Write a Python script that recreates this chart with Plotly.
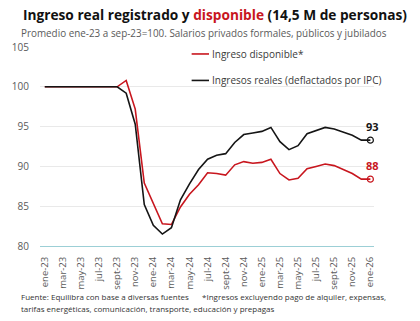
import plotly.graph_objects as go

# Monthly series, index base: average Jan-23 to Sep-23 = 100
meses = [
    "ene-23", "feb-23", "mar-23", "abr-23", "may-23", "jun-23", "jul-23", "ago-23",
    "sept-23", "oct-23", "nov-23", "dic-23",
    "ene-24", "feb-24", "mar-24", "abr-24", "may-24", "jun-24", "jul-24", "ago-24",
    "sept-24", "oct-24", "nov-24", "dic-24",
    "ene-25", "feb-25", "mar-25", "abr-25", "may-25", "jun-25", "jul-25", "ago-25",
    "sept-25", "oct-25", "nov-25", "dic-25",
    "ene-26",
]

ingreso_disponible = [
    100, 100, 100, 100, 100, 100, 100, 100, 100, 100.8, 97.2, 87.9,
    85.4, 82.8, 82.7, 84.9, 86.5, 87.7, 89.2, 89.1, 88.9, 90.2, 90.6, 90.4,
    90.5, 90.9, 89.1, 88.3, 88.5, 89.7, 90.0, 90.3, 90.1, 89.6, 89.1, 88.4,
    88.4,
]

ingresos_reales = [
    100, 100, 100, 100, 100, 100, 100, 100, 100, 99.2, 95.3, 85.2,
    82.6, 81.5, 82.3, 85.8, 87.8, 89.6, 90.9, 91.4, 91.6, 93.0, 94.0, 94.2,
    94.4, 94.9, 93.1, 92.1, 92.6, 94.1, 94.5, 94.9, 94.7, 94.3, 93.9, 93.3,
    93.3,
]

etiquetas_x = meses[::2]
ticks_y = [80, 85, 90, 95, 100, 105]

nombre_disp = "Ingreso disponible*"
nombre_real = "Ingresos reales (deflactados por IPC)"

ROJO = "#c8161e"
NEGRO = "#151515"
GRIS = "#5a5a5a"
FUENTE = "Open Sans, Lato, sans-serif"

fig = go.Figure()

series = [(nombre_disp, ingreso_disponible, ROJO), (nombre_real, ingresos_reales, NEGRO)]
for nombre, valores, color in series:
    fig.add_trace(go.Scatter(
        x=meses, y=valores, mode="lines", name=nombre,
        line=dict(color=color, width=1.6), showlegend=False,
    ))
    # open marker and value on the last month
    fig.add_trace(go.Scatter(
        x=[meses[-1]], y=[valores[-1]], mode="markers", showlegend=False,
        marker=dict(symbol="circle-open", size=6, color=color, line=dict(width=1.2)),
    ))
    fig.add_annotation(
        x=meses[-1], y=valores[-1], text=f"{valores[-1]:.0f}", showarrow=False,
        xanchor="center", yanchor="bottom", yshift=4, xshift=2,
        font=dict(family=FUENTE, size=11, color=color, weight="bold"),
    )

# Legend drawn as short line keys with labels, inside the plot area
leyenda = [(nombre_disp, ROJO, 0.965), (nombre_real, NEGRO, 0.832)]
for nombre, color, yp in leyenda:
    fig.add_shape(type="line", xref="paper", yref="paper",
                  x0=0.454, x1=0.506, y0=yp, y1=yp,
                  line=dict(color=color, width=1.6))
    fig.add_annotation(xref="paper", yref="paper", x=0.509, y=yp, text=nombre,
                       showarrow=False, xanchor="left", yanchor="middle",
                       font=dict(family=FUENTE, size=10, color="#3a3a3a"))

# Title, subtitle and footnotes
fig.add_annotation(
    xref="paper", yref="paper", x=-0.058, y=1.161, xanchor="left", yanchor="middle",
    text=f"<b>Ingreso real registrado y <span style='color:{ROJO}'>disponible</span>"
         " (14,5 M de personas)</b>",
    showarrow=False, font=dict(family=FUENTE, size=13.7, color="#111111"),
)
fig.add_annotation(
    xref="paper", yref="paper", x=-0.062, y=1.070, xanchor="left", yanchor="middle",
    text="Promedio ene-23 a sep-23=100. Salarios privados formales, públicos y jubilados",
    showarrow=False, font=dict(family=FUENTE, size=9.9, color=GRIS),
)
fig.add_annotation(
    xref="paper", yref="paper", x=-0.062, y=-0.252, xanchor="left", yanchor="middle",
    text="Fuente: Equilibra con base a diversas fuentes",
    showarrow=False, font=dict(family=FUENTE, size=8, color="#333333"),
)
fig.add_annotation(
    xref="paper", yref="paper", x=0.48, y=-0.252, xanchor="left", yanchor="middle",
    text="*Ingresos excluyendo pago de alquiler, expensas,",
    showarrow=False, font=dict(family=FUENTE, size=8, color="#333333"),
)
fig.add_annotation(
    xref="paper", yref="paper", x=-0.062, y=-0.312, xanchor="left", yanchor="middle",
    text="tarifas energéticas, comunicación, transporte, educación y prepagas",
    showarrow=False, font=dict(family=FUENTE, size=8, color="#333333"),
)

fig.update_layout(
    width=420, height=321,
    margin=dict(l=28, r=46, t=47, b=75),
    paper_bgcolor="white", plot_bgcolor="white",
    font=dict(family=FUENTE, color=GRIS),
)
fig.update_xaxes(
    type="category", categoryorder="array", categoryarray=meses,
    range=[-0.53, 36.4],
    tickmode="array", tickvals=etiquetas_x, ticktext=etiquetas_x,
    tickangle=-90, tickfont=dict(size=9.5, color=GRIS),
    showgrid=False, showline=True, linecolor="#9ccfd6", linewidth=1,
    ticks="outside", ticklen=6, tickcolor="rgba(0,0,0,0)",
    zeroline=False,
)
fig.update_yaxes(
    range=[80, 105], tickvals=ticks_y,
    tickfont=dict(size=10, color=GRIS),
    showgrid=True, gridcolor="#e9e9e9", gridwidth=1,
    ticks="outside", ticklen=8, tickcolor="rgba(0,0,0,0)",
    zeroline=False, showline=False,
)

fig.write_html("out.html")
